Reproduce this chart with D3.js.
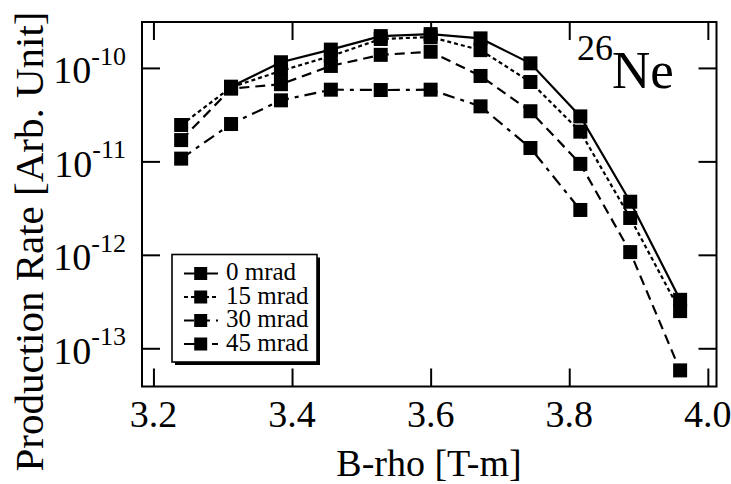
<!DOCTYPE html>
<html><head><meta charset="utf-8">
<script src="https://cdn.jsdelivr.net/npm/d3@7"></script>
<style>body{margin:0;background:#fff} text{font-family:"Liberation Serif","Times New Roman",Times,"Noto Serif","DejaVu Serif",serif;}</style>
</head><body>
<svg id="c" width="731" height="484"></svg>
<script>
// ---- data ----
const bRho = [3.240, 3.312, 3.384, 3.456, 3.528, 3.600, 3.672, 3.744, 3.816, 3.888, 3.960];
const seriesNames = ["0 mrad", "15 mrad", "30 mrad", "45 mrad"];
const rate0  = [null, 6.3e-11, 1.15e-10, 1.57e-10, 2.19e-10, 2.30e-10, 2.07e-10, 1.12e-10, 3.03e-11, 3.7e-12, 3.3e-13];
const rate15 = [2.45e-11, 6.2e-11, 9.3e-11, 1.34e-10, 2.04e-10, 2.14e-10, 1.55e-10, 7.07e-11, 2.08e-11, 2.48e-12, 2.5e-13];
const rate30 = [1.69e-11, 6.0e-11, 6.7e-11, 1.05e-10, 1.38e-10, 1.49e-10, 8.2e-11, 3.44e-11, 9.4e-12, 1.07e-12, 5.8e-14];
const rate45 = [1.07e-11, 2.51e-11, 4.5e-11, 5.85e-11, 5.8e-11, 5.85e-11, 3.88e-11, 1.39e-11, 3.02e-12, null, null];
const xTicks = [3.2, 3.4, 3.6, 3.8, 4.0];
const xTickLabels = ["3.2", "3.4", "3.6", "3.8", "4.0"];
const yTicks = [1e-10, 1e-11, 1e-12, 1e-13];
const yTickExp = ["-10", "-11", "-12", "-13"];
const xTitle = "B-rho [T-m]";
const yTitle = "Production Rate [Arb. Unit]";

// ---- layout ----
const L = 142, R = 716.5, T = 22, B = 386.5;
const svg = d3.select("#c");
const x = d3.scaleLinear().domain([3.1835, 4.0125]).range([L, R]);
const y = d3.scaleLog().domain([3.9e-14, 3.1e-10]).range([B, T]);

const dashes = [null, "4,3", "10,6", "12,6,4,6"];
const allRates = [rate0, rate15, rate30, rate45];
const series = seriesNames.map((n, i) => ({
  name: n, dash: dashes[i],
  pts: bRho.map((b, j) => ({x: b, v: allRates[i][j]}))
}));

// ticks via axes (inward, all four sides)
const tk = 18;
const ax = [
  d3.axisBottom(x).tickValues(xTicks).tickSize(tk).tickFormat(""),
  d3.axisTop(x).tickValues(xTicks).tickSize(tk).tickFormat(""),
  d3.axisLeft(y).tickValues(yTicks).tickSize(tk).tickFormat(""),
  d3.axisRight(y).tickValues(yTicks).tickSize(tk).tickFormat("")
];
const pos = [`translate(0,${B - tk})`, `translate(0,${T + tk})`, `translate(${L + tk},0)`, `translate(${R - tk},0)`];
ax.forEach((a, i) => {
  const g = svg.append("g").attr("transform", pos[i]).call(a);
  g.select(".domain").remove();
  g.selectAll("line").attr("stroke", "#000").attr("stroke-width", 2);
});

// frame
svg.append("rect").attr("x", L).attr("y", T).attr("width", R - L).attr("height", B - T)
  .attr("fill", "none").attr("stroke", "#000").attr("stroke-width", 2);

// x tick labels
svg.append("g").selectAll("text").data(xTicks).join("text")
  .attr("x", d => x(d)).attr("y", 427).attr("text-anchor", "middle")
  .attr("font-size", 38)
  .text((d, i) => xTickLabels[i]);

// y tick labels
svg.append("g").selectAll("text").data(yTicks).join("text")
  .attr("x", 126).attr("y", d => y(d) + 15.4).attr("text-anchor", "end")
  .attr("font-size", 38)
  .each(function(d, i) {
    const t = d3.select(this);
    t.append("tspan").text("10");
    t.append("tspan").attr("dy", -18.3).attr("font-size", 26).text(yTickExp[i]);
  });

// axis titles
svg.append("text").attr("x", 429).attr("y", 476).attr("text-anchor", "middle")
  .attr("font-size", 38).text(xTitle);
svg.append("text").attr("transform", "translate(43,241.5) rotate(-90)").attr("text-anchor", "middle")
  .attr("font-size", 41).text(yTitle);

// lines
const line = d3.line().defined(d => d.v != null).x(d => x(d.x)).y(d => y(d.v));
series.forEach(s => {
  svg.append("path").attr("d", line(s.pts)).attr("fill", "none")
    .attr("stroke", "#000").attr("stroke-width", 2.2)
    .attr("stroke-dasharray", s.dash);
});
// markers
const ms = 14;
series.forEach(s => {
  svg.append("g").selectAll("rect").data(s.pts.filter(d => d.v != null)).join("rect")
    .attr("x", d => x(d.x) - ms / 2).attr("y", d => y(d.v) - ms / 2)
    .attr("width", ms).attr("height", ms).attr("fill", "#000");
});

// 26Ne label
svg.append("text").attr("x", 577).attr("y", 60).attr("font-size", 36).text("26");
svg.append("text").attr("x", 612).attr("y", 88).attr("font-size", 53).text("Ne");

// legend
const lg = svg.append("g");
lg.append("rect").attr("x", 175).attr("y", 257.5).attr("width", 145).attr("height", 107.5).attr("fill", "#000");
lg.append("rect").attr("x", 172).attr("y", 254.5).attr("width", 145).attr("height", 107.5)
  .attr("fill", "#fff").attr("stroke", "#000").attr("stroke-width", 1.6);
const rowBase = [280, 303.5, 327, 350.5];
series.forEach((s, i) => {
  const cy = rowBase[i] - 6.5;
  lg.append("line").attr("x1", 184).attr("x2", 218).attr("y1", cy).attr("y2", cy)
    .attr("stroke", "#000").attr("stroke-width", 2.2).attr("stroke-dasharray", s.dash);
  lg.append("rect").attr("x", 200.7 - 6.5).attr("y", cy - 6.5).attr("width", 13).attr("height", 13).attr("fill", "#000");
  lg.append("text").attr("x", 226).attr("y", rowBase[i]).attr("font-size", 25).text(s.name);
});
</script>
</body></html>
